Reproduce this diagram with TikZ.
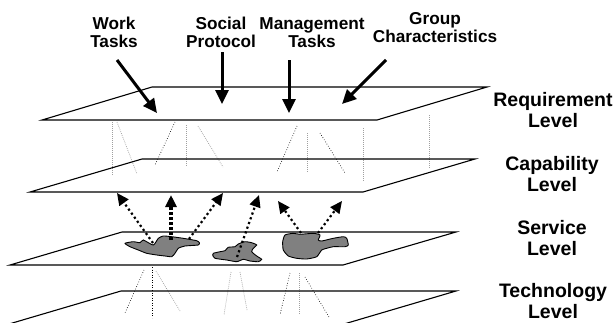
\documentclass[tikz,border=0pt]{standalone}
\usepackage{fontspec}
\setmainfont{Liberation Sans}
\usetikzlibrary{arrows.meta}
\begin{document}
\begin{tikzpicture}[x=1pt,y=-1pt,
  plane/.style={draw=black,line width=1.1pt,line join=miter},
  bigarrow/.style={line width=3pt,-{Triangle[length=14pt,width=13pt]}},
  dotarrow/.style={line width=2.2pt,dash pattern=on 2.2pt off 2.8pt,-{Triangle[length=12pt,width=11pt]}},
  dasharrow/.style={line width=3.2pt,dash pattern=on 3pt off 2pt,-{Triangle[length=12pt,width=11pt]}},
  guide/.style={gray!75,line width=0.75pt,dash pattern=on 0.75pt off 1.25pt},
  guidedark/.style={black,line width=0.65pt,dash pattern=on 0.65pt off 1.9pt},
  blob/.style={draw=black,line width=0.9pt,fill=black!50},
  toplabel/.style={font=\fontsize{17.2}{18.5}\selectfont\bfseries,align=center,inner sep=0pt},
  sidelabel/.style={font=\fontsize{19.5}{20.5}\selectfont\bfseries,align=center,inner sep=0pt}]
\useasboundingbox (0,0) rectangle (613,322);

% guide lines between requirement and capability levels
\draw[guide] (112,122) -- (112,175);
\draw[guide] (117,122) -- (137,174);
\draw[guidedark] (175,122) -- (155,165);
\draw[guide] (186,125) -- (186,167);
\draw[guide] (198,126) -- (223,167);
\draw[guidedark] (297,126) -- (277,172);
\draw[guide] (307,133) -- (307,173);
\draw[guidedark] (320,133) -- (345,173);
\draw[guide] (363,128) -- (363,182);
\draw[guide] (429,115) -- (429,168);

% guide lines between service and technology levels
\draw[guidedark] (144,270) -- (125,313);
\draw[guidedark] (152,267) -- (152,318);
\draw[guide] (156,271) -- (180,311);
\draw[guide] (231,272) -- (224,315);
\draw[guide] (240,272) -- (247,310);
\draw[guidedark] (290,273) -- (280,315);
\draw[guide] (299,273) -- (299,315);
\draw[guidedark] (305,277) -- (329,317);

% planes
\draw[plane] (42,120) -- (377,120) -- (487,87) -- (152,87) -- cycle;
\draw[plane] (30,192) -- (363,192) -- (475,159) -- (142,159) -- cycle;
\draw[plane] (10,265) -- (343,265) -- (456,232) -- (122,232) -- cycle;
\draw[plane] (9,324) -- (344,324) -- (456,291) -- (121,291) -- cycle;

% blobs
\draw[blob] plot[smooth cycle,tension=0.35] coordinates {(125,243.3) (133.3,241.7) (140,242.7) (143.3,240) (153.3,245) (158.3,238.3) (163.3,236) (171.7,236.7) (183.3,238.3) (196.7,240.7) (199.3,242.7) (198.3,245) (185,246) (178.3,248.3) (175,253.3) (171.7,256.7) (165,256) (156.7,255) (146.7,253.3) (138.3,250) (130,246.7)};
\draw[blob] plot[smooth cycle,tension=0.35] coordinates {(213.3,253.3) (220,251.7) (225,250.7) (228.3,247.3) (235,246.7) (238.3,244) (245,241.7) (251.7,242.7) (256.7,245) (253.3,248.3) (251.7,251.7) (256.7,256) (261.7,259.3) (258.3,261.7) (250,261) (243.3,259.3) (236.7,261.7) (226.7,260) (215,258.3) (212.7,255)};
\draw[blob] plot[smooth cycle,tension=0.35] coordinates {(285,235) (293.3,233.3) (300,234.3) (313.3,233.3) (320,235) (318.3,240) (321.7,241) (333.3,238.3) (343.3,236.7) (346.7,238.3) (348.3,245) (345,246.7) (333.3,246.7) (326.7,248.3) (321.7,250) (316.7,256.7) (306.7,259) (296.7,258.3) (288.3,256) (283.3,250) (282.7,241.7)};

% labels
\node[toplabel] (work) at (114,32.5) {Work\\Tasks};
\node[toplabel] (social) at (221,32.5) {Social\\Protocol};
\node[toplabel] (mgmt) at (312,32.5) {Management\\Tasks};
\node[toplabel] (group) at (435,27.5) {Group\\Characteristics};
\node[sidelabel] (req) at (553,110) {Requirement\\Level};
\node[sidelabel] (cap) at (552,174) {Capability\\Level};
\node[sidelabel] (serv) at (552,238) {Service\\Level};
\node[sidelabel] (tech) at (553,301) {Technology\\Level};

% arrow end points
\coordinate (wt) at (117,60);  \coordinate (wh) at (157,113);
\coordinate (st) at (222,52);  \coordinate (sh) at (222,104);
\coordinate (mt) at (289,60);  \coordinate (mh) at (289,113);
\coordinate (gt) at (386,60);  \coordinate (gh) at (342,104);
\draw[bigarrow] (wt) -- (wh);
\draw[bigarrow] (st) -- (sh);
\draw[bigarrow] (mt) -- (mh);
\draw[bigarrow] (gt) -- (gh);

\coordinate (a1t) at (153,243); \coordinate (a1h) at (117,193);
\coordinate (a2t) at (171,240); \coordinate (a2h) at (171,195);
\coordinate (a3t) at (189,239); \coordinate (a3h) at (223,193);
\coordinate (a4t) at (237,257); \coordinate (a4h) at (259,195);
\coordinate (a5t) at (301,233); \coordinate (a5h) at (278,201);
\coordinate (a6t) at (318,233); \coordinate (a6h) at (342,201);
\draw[dotarrow] (a1t) -- (a1h);
\draw[dasharrow] (a2t) -- (a2h);
\draw[dotarrow] (a3t) -- (a3h);
\draw[dotarrow] (a4t) -- (a4h);
\draw[dotarrow] (a5t) -- (a5h);
\draw[dotarrow] (a6t) -- (a6h);
\end{tikzpicture}
\end{document}
